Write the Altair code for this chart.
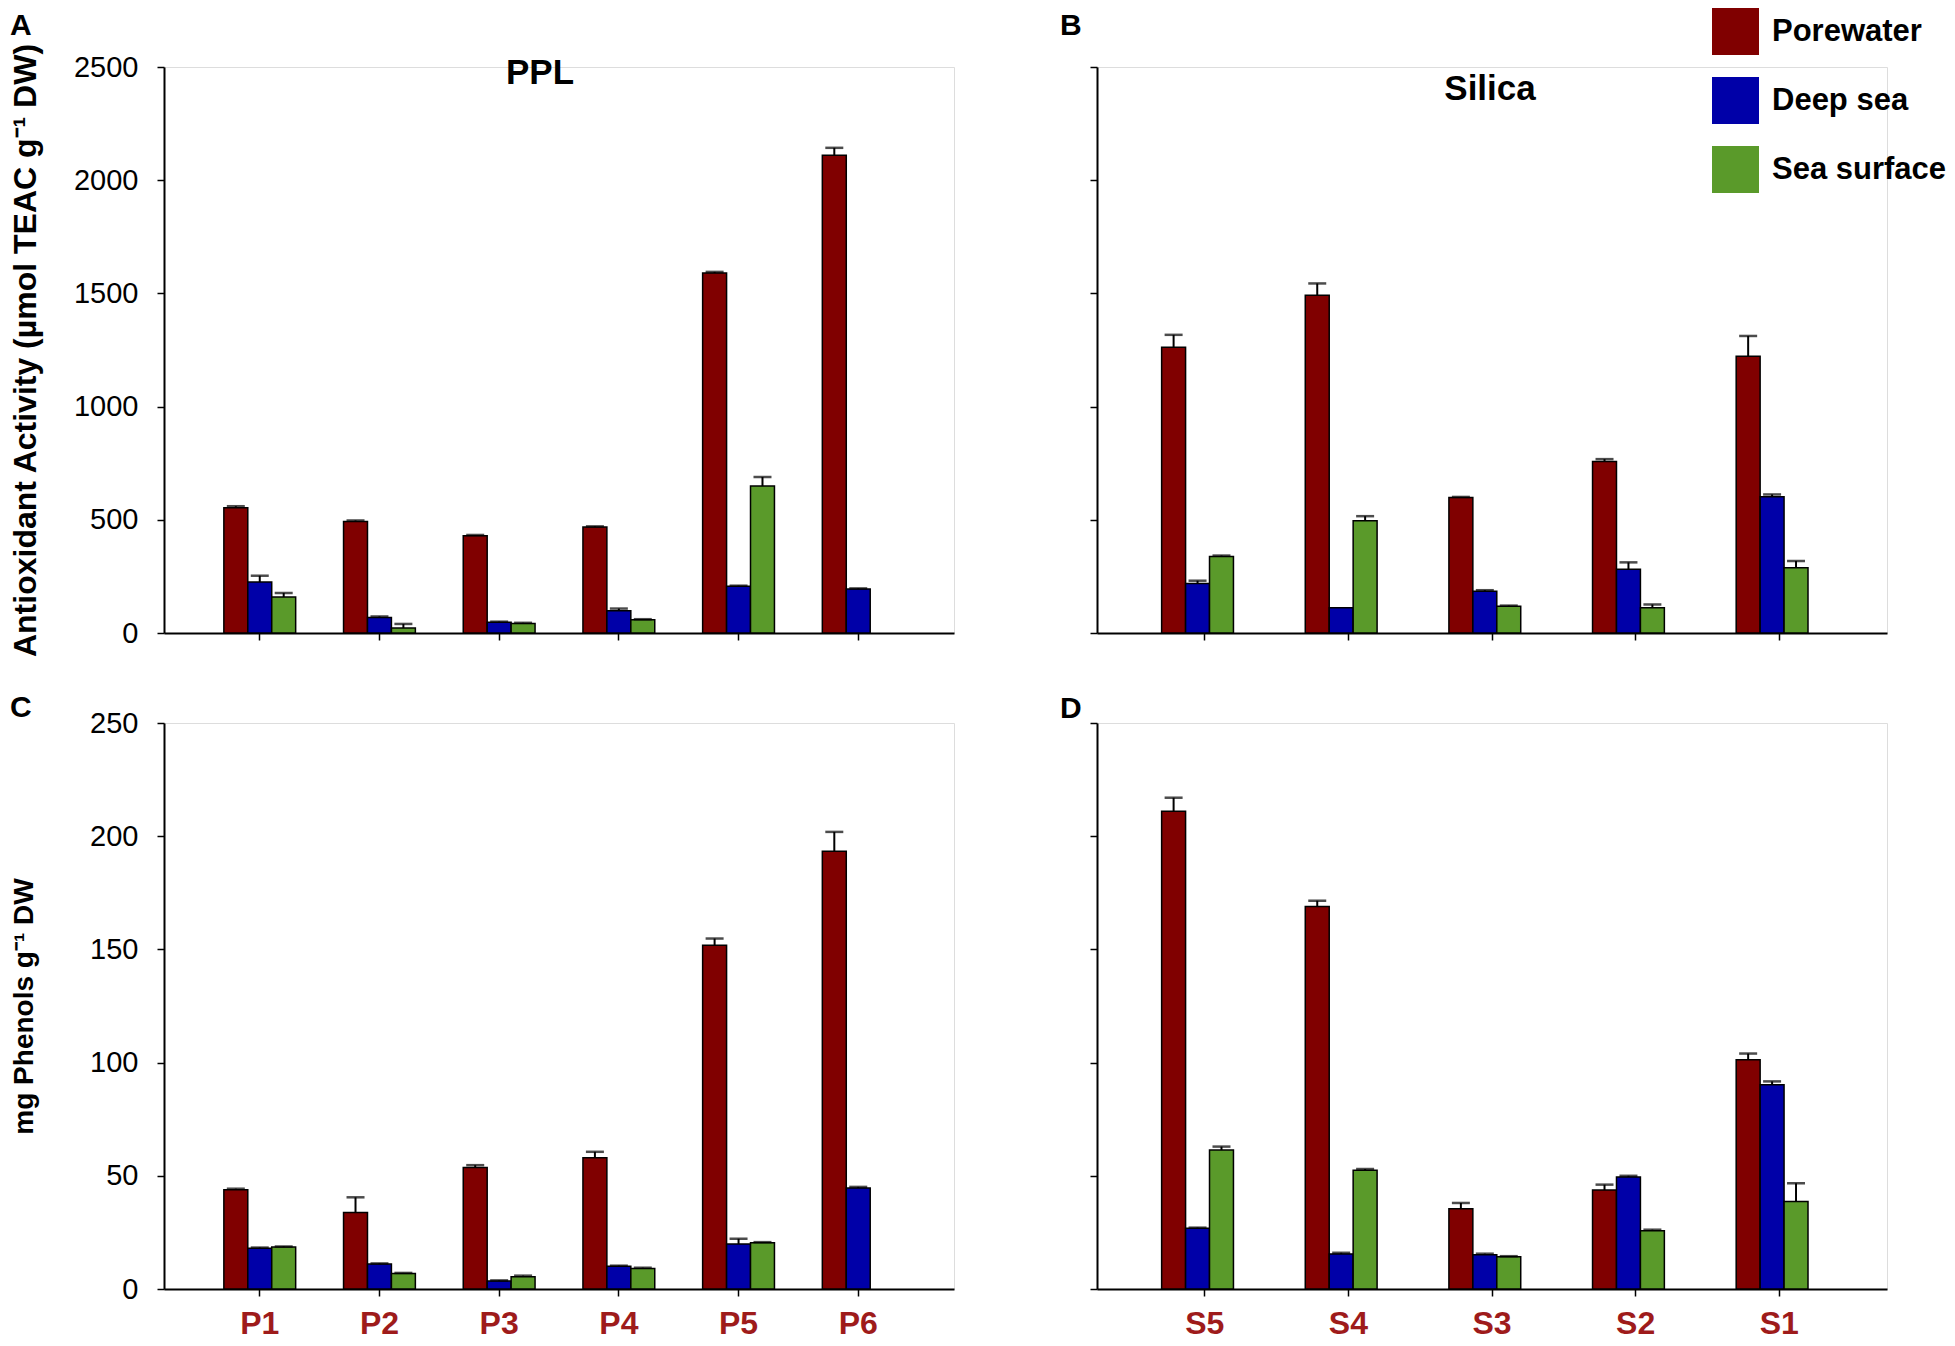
import altair as alt
import pandas as pd

SERIES = ["Porewater", "Deep sea", "Sea surface"]
COLORS = ["#800000", "#0000A8", "#5A9A2A"]

P_SITES = ["P1", "P2", "P3", "P4", "P5", "P6"]
S_SITES = ["S5", "S4", "S3", "S2", "S1"]

# Panel A: PPL antioxidant activity
A_pore = [553, 492, 430, 468, 1590, 2110]
A_pore_err = [7, 5, 3, 3, 5, 33]
A_deep = [225, 69, 47, 98, 206, 194]
A_deep_err = [28, 4, 3, 10, 3, 3]
A_surf = [159, 22, 42, 58, 649, None]
A_surf_err = [18, 18, 3, 3, 40, None]

# Panel B: Silica antioxidant activity
B_pore = [1262, 1492, 598, 758, 1222]
B_pore_err = [55, 52, 3, 10, 90]
B_deep = [219, 112, 184, 282, 602]
B_deep_err = [12, 0, 5, 30, 10]
B_surf = [338, 496, 118, 112, 288]
B_surf_err = [4, 20, 3, 14, 30]

# Panel C: PPL phenols
C_pore = [43.8, 33.8, 53.7, 58.0, 151.8, 193.4]
C_pore_err = [0.5, 6.7, 1.0, 2.6, 3.0, 8.5]
C_deep = [18.0, 11.0, 3.5, 10.0, 19.9, 44.6]
C_deep_err = [0.3, 0.3, 0.3, 0.3, 2.3, 0.5]
C_surf = [18.5, 6.8, 5.4, 9.1, 20.4, None]
C_surf_err = [0.3, 0.3, 0.5, 0.3, 0.3, None]

# Panel D: Silica phenols
D_pore = [211.0, 169.0, 35.5, 43.7, 101.3]
D_pore_err = [6.0, 2.5, 2.5, 2.4, 2.7]
D_deep = [26.8, 15.5, 15.1, 49.5, 90.2]
D_deep_err = [0.3, 0.5, 0.5, 0.5, 1.5]
D_surf = [61.4, 52.5, 14.2, 25.7, 38.7]
D_surf_err = [1.5, 0.5, 0.3, 0.5, 8.0]

FONT = "Liberation Sans"
W, H = 790, 566


def long_df(sites, vals, errs):
    rows = []
    for s_name, v_list, e_list in zip(SERIES, vals, errs):
        for site, v, e in zip(sites, v_list, e_list):
            if v is None:
                continue
            rows.append({"site": site, "series": s_name, "value": v,
                         "err": e, "top": v + e})
    return pd.DataFrame(rows)


LEGEND = alt.Legend(
    orient="none", legendX=1548, legendY=-59, title=None,
    symbolType="square", symbolSize=2209, symbolStrokeWidth=0,
    symbolOpacity=1, labelFontSize=31, labelFontWeight="bold",
    labelColor="black", labelFont=FONT, rowPadding=22, labelOffset=13,
    padding=0, labelLimit=400,
)


def text_layer(label, x, y, size, align="left", baseline="alphabetic"):
    return alt.Chart(pd.DataFrame({"t": [label]})).mark_text(
        fontSize=size, fontWeight="bold", color="black", font=FONT,
        align=align, baseline=baseline).encode(
        text="t:N", x=alt.value(x), y=alt.value(y))


def panel(df, sites, letter, letter_x, letter_y, ymax, ystep, show_y,
          ytitle, ytitle_size, ytitle_pad, show_x, pad_outer, heading,
          head_x, head_y):
    xscale = alt.Scale(domain=sites, paddingInner=0.4, paddingOuter=pad_outer)
    xaxis = alt.Axis(
        title=None, labels=show_x, labelFontSize=32, labelFontWeight="bold",
        labelColor="#9E1B1B", labelPadding=12, labelAngle=0, labelFont=FONT,
        tickSize=7, tickColor="black", tickWidth=1.5,
        domainColor="black", domainWidth=2,
    )
    yvals = list(range(0, ymax + 1, ystep))
    if show_y:
        yaxis = alt.Axis(
            values=yvals, title=ytitle, labels=True, labelFontSize=29,
            labelColor="black", labelFont=FONT, labelPadding=19,
            titleFontSize=ytitle_size, titleFontWeight="bold", titleFont=FONT,
            titleColor="black", titlePadding=ytitle_pad,
            minExtent=90, maxExtent=90, format="d",
            tickSize=7, tickColor="black", tickWidth=1.5,
            domainColor="black", domainWidth=2, grid=False,
        )
    else:
        yaxis = alt.Axis(
            values=yvals, title=None, labels=False,
            tickSize=7, tickColor="black", tickWidth=1.5,
            domainColor="black", domainWidth=2, grid=False,
        )
    x = alt.X("site:N", scale=xscale, sort=sites, axis=xaxis)
    xo = alt.XOffset("series:N", sort=SERIES,
                     scale=alt.Scale(domain=SERIES, paddingInner=0, paddingOuter=0))
    y = alt.Y("value:Q", scale=alt.Scale(domain=[0, ymax], nice=False), axis=yaxis)

    bars = alt.Chart(df).mark_bar(stroke="black", strokeWidth=1.5).encode(
        x=x, xOffset=xo, y=y,
        color=alt.Color("series:N", sort=SERIES,
                        scale=alt.Scale(domain=SERIES, range=COLORS),
                        legend=LEGEND),
    )
    edf = df[df["err"] > 0]
    rule = alt.Chart(edf).mark_rule(color="black", strokeWidth=2).encode(
        x=x, xOffset=xo, y=alt.Y("value:Q"), y2="top:Q")
    cap = alt.Chart(edf).mark_tick(color="black", orient="horizontal",
                                   size=18, thickness=2.5).encode(
        x=x, xOffset=xo, y=alt.Y("top:Q"))
    layers = [bars, rule, cap, text_layer(letter, letter_x, letter_y, 30)]
    if heading:
        layers.append(text_layer(heading, head_x, head_y, 35,
                                 align="center", baseline="middle"))
    return alt.layer(*layers).properties(width=W, height=H)


dfA = long_df(P_SITES, [A_pore, A_deep, A_surf], [A_pore_err, A_deep_err, A_surf_err])
dfB = long_df(S_SITES, [B_pore, B_deep, B_surf], [B_pore_err, B_deep_err, B_surf_err])
dfC = long_df(P_SITES, [C_pore, C_deep, C_surf], [C_pore_err, C_deep_err, C_surf_err])
dfD = long_df(S_SITES, [D_pore, D_deep, D_surf], [D_pore_err, D_deep_err, D_surf_err])

A = panel(dfA, P_SITES, "A", -154, -32, 2500, 500, True,
          "Antioxidant Activity (µmol TEAC g⁻¹ DW)", 32, 32, False, 0.5,
          "PPL", 376, 6)
B = panel(dfB, S_SITES, "B", -37, -32, 2500, 500, False,
          None, 32, 32, False, 0.45, "Silica", 393, 22)
C = panel(dfC, P_SITES, "C", -154, -6, 250, 50, True,
          "mg Phenols g⁻¹ DW", 28, 36, True, 0.5, None, 0, 0)
D = panel(dfD, S_SITES, "D", -37, -5, 250, 50, False,
          None, 28, 36, True, 0.45, None, 0, 0)

row1 = alt.hconcat(A, B, spacing=104)
row2 = alt.hconcat(C, D, spacing=104)
chart = alt.vconcat(row1, row2, spacing=34).resolve_scale(
    color="shared").properties(padding=0).configure_view(stroke=None).configure(
    font=FONT)

chart.save("out.html", embed_options={"renderer": "svg", "actions": False})
